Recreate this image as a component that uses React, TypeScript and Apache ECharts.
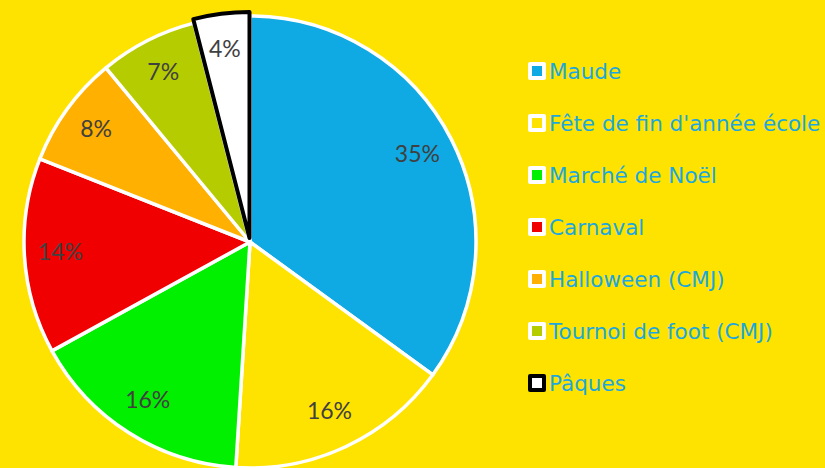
import React, { useEffect, useRef } from "react";
import * as echarts from "echarts";

const categories = [
  "Maude",
  "Fête de fin d'année école",
  "Marché de Noël",
  "Carnaval",
  "Halloween (CMJ)",
  "Tournoi de foot (CMJ)",
  "Pâques",
];
const values = [35, 16, 16, 14, 8, 7, 4];
const colors = ["#0FA9E3", "#FFE300", "#00F000", "#F00000", "#FFB000", "#B5CC00", "#FFFFFF"];

export default function App() {
  const ref = useRef<HTMLDivElement>(null);
  useEffect(() => {
    const chart = echarts.init(ref.current!, null, { renderer: "svg" });
    const total = values.reduce((a, b) => a + b, 0);
    const makeData = (overlay: boolean) =>
      categories.map((name, i) => {
        const isPaques = name === "Pâques";
        return {
          name,
          value: values[i],
          selected: isPaques,
          itemStyle: overlay
            ? { color: "rgba(0,0,0,0)", borderWidth: 0 }
            : {
                color: colors[i],
                borderColor: isPaques ? "#000000" : "#FFFFFF",
                borderWidth: isPaques ? 4 : 3.5,
              },
        };
      });
    chart.setOption({
      animation: false,
      backgroundColor: "#FFE300",
      legend: {
        orient: "vertical",
        left: 523,
        top: 55,
        itemWidth: 14,
        itemHeight: 14,
        itemGap: 30,
        icon: "rect",
        data: categories,
        itemStyle: { borderWidth: 4 },
        textStyle: {
          color: "#1CA7DE",
          fontSize: 21.5,
          fontFamily: "DejaVu Sans",
          lineHeight: 20,
          padding: [0, 0, 0, 0],
        },
      },
      series: [
        {
          type: "pie",
          center: [250, 242],
          radius: [0, 226],
          startAngle: 90,
          clockwise: true,
          selectedMode: "single",
          selectedOffset: 4,
          label: { show: false },
          labelLine: { show: false },
          emphasis: { disabled: true },
          data: makeData(false),
        },
        {
          type: "pie",
          center: [249, 239],
          radius: [146, 226],
          startAngle: 90,
          clockwise: true,
          silent: true,
          selectedMode: "single",
          selectedOffset: 4,
          legendHoverLink: false,
          emphasis: { disabled: true },
          label: {
            show: true,
            position: "inside",
            color: "#404040",
            fontSize: 23,
            fontFamily: "Lato",
            formatter: (p: any) => Math.round((p.value / total) * 100) + "%",
          },
          labelLine: { show: false },
          data: makeData(true),
        },
      ],
    });
    return () => chart.dispose();
  }, []);
  return (
    <div
      ref={ref}
      style={{ position: "fixed", left: 0, top: 0, width: 825, height: 468 }}
    />
  );
}
